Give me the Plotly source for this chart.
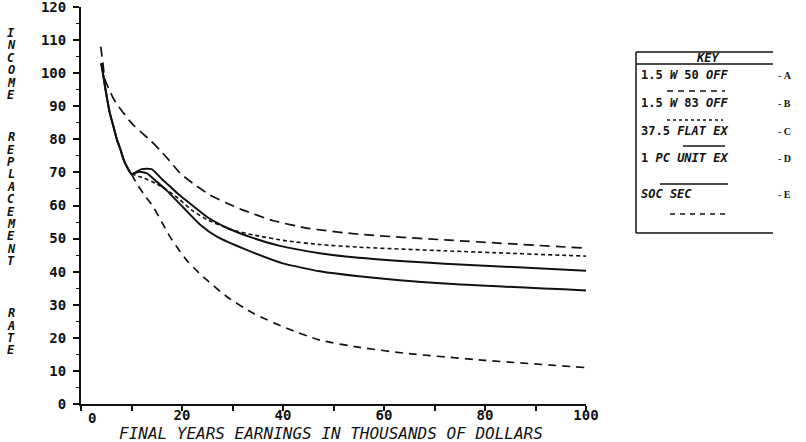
import plotly.graph_objects as go

# ---- data: income replacement rate (%) vs final year's earnings ($000) ----
# the solid stem shared by curves B-E before they split at ~$10k
stem_x = [4, 4.4, 4.75, 5.2, 5.7, 6.4, 7.1, 7.8, 8.4, 9.1, 10]
stem_y = [103, 99.5, 96, 92, 88, 84, 80, 77, 74, 71.7, 69.5]

a_x = [3.9, 4.3, 4.75, 5.7, 6.4, 7.3, 8.4, 9.5, 10.7, 12, 13.3, 15.6, 17.6,
       19.6, 22.6, 25.5, 28.9, 32.1, 38.1, 45, 55, 72, 100]
a_y = [108, 103.5, 98, 94.7, 92.4, 90.2, 88, 85.8, 83.8, 82, 80.3, 76.8, 73.4,
       69.8, 66.2, 63.2, 60.7, 58.6, 55.4, 53.1, 51.3, 49.6, 47.1]

b_x = [12.5, 15, 17.5, 19.6, 22, 24.9, 29.5, 34.1, 40.7, 47.3, 55, 72, 100]
b_y = [68.3, 66.5, 64.2, 61.7, 58.5, 55.8, 52.8, 51.1, 49.3, 48.2, 47.4, 46.3, 44.7]

c_x = [12, 14, 16, 17.6, 19.6, 21.6, 25.2, 29, 34, 39.4, 47.3, 55, 72, 100]
c_y = [71, 71, 68, 65.8, 63, 60.6, 56.3, 53.2, 50.2, 47.8, 45.6, 44.2, 42.4, 40.3]

d_x = [11.5, 13, 15, 17, 20.3, 23.6, 26.9, 32.8, 40, 47.3, 55, 72, 100]
d_y = [70.2, 69.8, 67.2, 64.5, 59.3, 54.2, 50.6, 46.6, 42.5, 40.1, 38.6, 36.4, 34.3]

e_x = [11, 12.5, 14.3, 16, 17.6, 19.2, 20.9, 22.9, 24.9, 28.9, 34.1, 40.7,
       47.3, 55.2, 65, 80, 100]
e_y = [66.7, 63.3, 59.6, 55, 50.6, 47, 43.5, 40.3, 37.5, 32.4, 27.4, 22.9,
       19.3, 17.1, 15.2, 13.2, 11]

series_letters = ["A", "B", "C", "D", "E"]
key_texts = ["1.5 <i>W</i> 50 <i>OFF</i>", "1.5 <i>W</i> 83 <i>OFF</i>",
             "37.5 <i>FLAT EX</i>", "1 <i>PC UNIT EX</i>", "<i>SOC SEC</i>"]

x_ticks = list(range(0, 101, 10))
x_ticktext = ["" if v % 20 or v == 0 else str(v) for v in x_ticks]
y_ticks = list(range(0, 121, 10))

y_title = ["INCOME", "REPLACEMENT", "RATE"]
x_title = "FINAL YEARS EARNINGS IN THOUSANDS OF DOLLARS"

# ---- styling ----
INK = "#111111"
DASH_A = "10px,6px"
DASH_B = "4px,3px"
DASH_E = "8px,6px"
MONO = "DejaVu Sans Mono"

W, H = 806, 442
L, R, T, B = 81, 586, 7, 404


def px(x):
    return (x - L) / (R - L)


def py(y):
    return (B - y) / (B - T)


fig = go.Figure()

styles = {
    "A": (a_x, a_y, DASH_A, 1.7),
    "B": (stem_x[-1:] + b_x, stem_y[-1:] + b_y, DASH_B, 1.6),
    "C": (stem_x + c_x, stem_y + c_y, "solid", 2.0),
    "D": (stem_x + d_x, stem_y + d_y, "solid", 2.0),
    "E": (stem_x[-1:] + e_x, stem_y[-1:] + e_y, DASH_E, 1.7),
}
for name in series_letters:
    xs, ys, dash, w = styles[name]
    fig.add_trace(go.Scatter(
        x=xs, y=ys, mode="lines", name=name, showlegend=False,
        line=dict(color=INK, width=w, dash=dash, shape="spline", smoothing=0.5),
        hoverinfo="skip"))

annotations = []
shapes = []

# curve end labels
label_y = {"A": 47.1, "B": 43.8, "C": 39.6, "D": 35.4, "E": 10.8}
for name in series_letters:
    annotations.append(dict(
        x=101.6, y=label_y[name], xref="x", yref="y", text=f"<b>{name}</b>",
        showarrow=False, xanchor="left", yanchor="middle",
        font=dict(family="Liberation Serif", size=11, color=INK)))

# stacked vertical axis title
start = 33
step = 12.4
gaps = [0, 3.4, 4.2]
ypos = start
for wi, word in enumerate(y_title):
    if wi > 0:
        ypos += step * gaps[wi]
    for ci, ch in enumerate(word):
        if ci > 0:
            ypos += step
        annotations.append(dict(
            x=px(11), y=py(ypos), xref="paper", yref="paper", text=f"<i>{ch}</i>",
            showarrow=False, xanchor="center", yanchor="middle",
            font=dict(family=MONO, size=12, color=INK, weight="bold")))

# x-axis zero label and title
annotations.append(dict(
    x=px(92), y=py(418), xref="paper", yref="paper", text="0",
    showarrow=False, xanchor="center", yanchor="middle",
    font=dict(family=MONO, size=14, color=INK, weight="bold")))
annotations.append(dict(
    x=px(331), y=py(433), xref="paper", yref="paper", text=f"<i>{x_title}</i>",
    showarrow=False, xanchor="center", yanchor="middle",
    font=dict(family=MONO, size=16, color=INK)))

# ---- key box ----
bx0, bx1 = 636, 773
for yy in (52, 64, 233):
    shapes.append(dict(type="line", xref="paper", yref="paper",
                       x0=px(bx0), x1=px(bx1), y0=py(yy), y1=py(yy),
                       line=dict(color=INK, width=1.5)))
shapes.append(dict(type="line", xref="paper", yref="paper",
                   x0=px(bx0), x1=px(bx0), y0=py(52), y1=py(233),
                   line=dict(color=INK, width=1.5)))
annotations.append(dict(
    x=px(707), y=py(58), xref="paper", yref="paper", text="<i>KEY</i>",
    showarrow=False, xanchor="center", yanchor="middle",
    font=dict(family=MONO, size=12, color=INK, weight="bold")))

text_rows = [75, 103, 131, 158, 194]
sample = [(667, 725, 91, "6px,5px", 1.5), (667, 723, 120, "3px,3px", 1.4),
          (683, 725, 146, "solid", 1.6), (660, 728, 184, "solid", 1.6),
          (670, 727, 214, "5px,5px", 1.4)]
for i, name in enumerate(series_letters):
    annotations.append(dict(
        x=px(639), y=py(text_rows[i]), xref="paper", yref="paper",
        text=key_texts[i], showarrow=False, xanchor="left", yanchor="middle",
        font=dict(family=MONO, size=12, color=INK, weight="bold")))
    annotations.append(dict(
        x=px(776), y=py(text_rows[i]), xref="paper", yref="paper",
        text=f"- <b>{name}</b>", showarrow=False, xanchor="left", yanchor="middle",
        font=dict(family="Liberation Serif", size=10, color=INK)))
    sx0, sx1, sy, dash, lw = sample[i]
    shapes.append(dict(type="line", xref="paper", yref="paper",
                       x0=px(sx0), x1=px(sx1), y0=py(sy), y1=py(sy),
                       line=dict(color=INK, width=lw, dash=dash)))

fig.update_layout(
    width=W, height=H,
    margin=dict(l=L, r=W - R, t=T, b=H - B, pad=0, autoexpand=False),
    paper_bgcolor="white", plot_bgcolor="white",
    showlegend=False,
    annotations=annotations, shapes=shapes,
    xaxis=dict(range=[0, 100], showgrid=False, zeroline=False,
               showline=True, linecolor=INK, linewidth=2, automargin=False,
               ticks="outside", ticklen=5, tickwidth=1.5, tickcolor=INK,
               tickmode="array", tickvals=x_ticks, ticktext=x_ticktext,
               ticklabelstandoff=-8, ticklabeloverflow="allow",
               tickfont=dict(family=MONO, size=14, color=INK, weight="bold")),
    yaxis=dict(range=[0, 120], showgrid=False, zeroline=False,
               showline=True, linecolor=INK, linewidth=2, automargin=False,
               ticks="outside", ticklen=6, tickwidth=1.5, tickcolor=INK,
               tickmode="array", tickvals=y_ticks,
               ticklabelstandoff=4, ticklabeloverflow="allow",
               minor=dict(ticks="outside", ticklen=3, tickwidth=1.2,
                          tickcolor=INK, dtick=5, tick0=0, showgrid=False),
               tickfont=dict(family=MONO, size=14, color=INK, weight="bold")),
)

fig.write_html("out.html")
